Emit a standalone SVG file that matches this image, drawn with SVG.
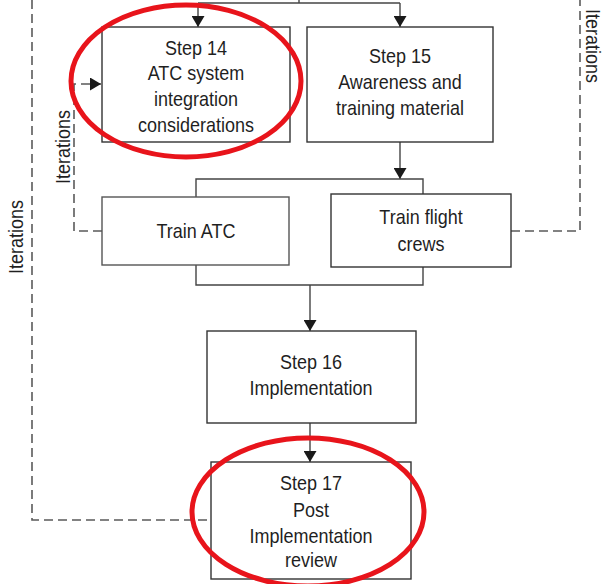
<svg xmlns="http://www.w3.org/2000/svg" width="604" height="584" viewBox="0 0 604 584">
<defs>
<style>
.box{fill:#fff;stroke:#333;stroke-width:1.4}
.ln{fill:none;stroke:#444;stroke-width:1.4}
.dash{fill:none;stroke:#5a5a5a;stroke-width:1.6;stroke-dasharray:9 5}
.t{font-family:"Liberation Sans",Arial,sans-serif;font-size:20px;fill:#1f1f1f;text-anchor:middle}
.red{fill:none;stroke:#e8141b;stroke-width:5}
</style>
<marker id="ah" viewBox="0 0 11 13" refX="11" refY="6.5" markerWidth="11" markerHeight="13" markerUnits="userSpaceOnUse" orient="auto">
<path d="M0,0 L11,6.5 L0,13 Z" fill="#1a1a1a"/>
</marker>
</defs>
<rect width="604" height="584" fill="#fff"/>

<g id="connectors">
<path class="ln" d="M299,0 V3"/>
<path class="ln" d="M198,3 H400"/>
<path class="ln" d="M198,3 V27" marker-end="url(#ah)"/>
<path class="ln" d="M400,3 V27" marker-end="url(#ah)"/>
<path class="ln" d="M400,142 V179" marker-end="url(#ah)"/>
<path class="ln" d="M196,197 V179 H423 V194"/>
<path class="ln" d="M196,265 V285 H423 V267"/>
<path class="ln" d="M310,285 V331" marker-end="url(#ah)"/>
<path class="ln" d="M310,423 V462" marker-end="url(#ah)"/>
<path class="dash" d="M32,0 V520 H211"/>
<path class="dash" d="M102,231 H74 V84 H101" marker-end="url(#ah)"/>
<path class="dash" d="M511,231 H580 V0"/>
</g>

<g id="step14">
<rect class="box" x="102" y="27" width="188" height="115"/>
<text class="t" transform="translate(196,55) scale(0.9,1)">Step 14</text>
<text class="t" transform="translate(196,80) scale(0.9,1)">ATC system</text>
<text class="t" transform="translate(196,106) scale(0.9,1)">integration</text>
<text class="t" transform="translate(196,132) scale(0.9,1)">considerations</text>
</g>

<g id="step15">
<rect class="box" x="307" y="27" width="186" height="115"/>
<text class="t" transform="translate(400,63) scale(0.9,1)">Step 15</text>
<text class="t" transform="translate(400,89) scale(0.9,1)">Awareness and</text>
<text class="t" transform="translate(400,115) scale(0.9,1)">training material</text>
</g>

<g id="trainATC">
<rect class="box" x="102" y="197" width="187" height="68" style="stroke:#555"/>
<text class="t" transform="translate(196,238) scale(0.9,1)">Train ATC</text>
</g>

<g id="trainCrews">
<rect class="box" x="331" y="194" width="180" height="73"/>
<text class="t" transform="translate(421,224) scale(0.9,1)">Train flight</text>
<text class="t" transform="translate(421,251) scale(0.9,1)">crews</text>
</g>

<g id="step16">
<rect class="box" x="207" y="331" width="209" height="92"/>
<text class="t" transform="translate(311,369) scale(0.9,1)">Step 16</text>
<text class="t" transform="translate(311,395) scale(0.9,1)">Implementation</text>
</g>

<g id="step17">
<rect class="box" x="211" y="462" width="200" height="117"/>
<text class="t" transform="translate(311,490) scale(0.9,1)">Step 17</text>
<text class="t" transform="translate(311,517) scale(0.9,1)">Post</text>
<text class="t" transform="translate(311,543) scale(0.9,1)">Implementation</text>
<text class="t" transform="translate(311,567) scale(0.9,1)">review</text>
</g>

<g id="labels">
<text class="t" transform="translate(23,237) rotate(-90) scale(0.9,1)">Iterations</text>
<text class="t" transform="translate(70,147) rotate(-90) scale(0.9,1)">Iterations</text>
<text class="t" transform="translate(586,46) rotate(90) scale(0.9,1)">Iterations</text>
</g>

<g id="highlights">
<ellipse class="red" cx="186" cy="81" rx="115" ry="76"/>
<ellipse class="red" cx="308" cy="512" rx="116" ry="74"/>
</g>
</svg>
